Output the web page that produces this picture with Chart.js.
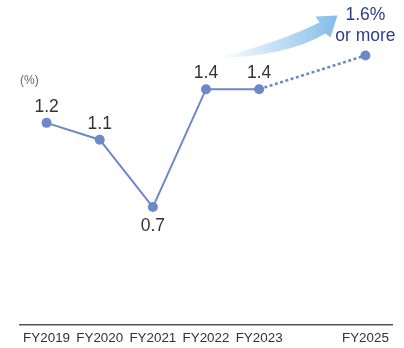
<!DOCTYPE html>
<html>
<head>
<meta charset="utf-8">
<script src="https://cdn.jsdelivr.net/npm/chart.js@4.4.1/dist/chart.umd.min.js"></script>
<style>
  html, body { margin: 0; padding: 0; background: #fff; }
  #wrap { position: relative; width: 404px; height: 348px; }
</style>
</head>
<body>
<div id="wrap"><canvas id="ratio-chart"></canvas></div>
<script>
// Fiscal years (FY2024 has no result, label left blank)
const years = ["FY2019", "FY2020", "FY2021", "FY2022", "FY2023", "", "FY2025"];
const ratio = [1.2, 1.1, 0.7, 1.4, 1.4, null, 1.6];
const valueLabels = ["1.2", "1.1", "0.7", "1.4", "1.4", "", "1.6%\nor more"];
const unitLabel = "(%)";

const lineColor = "#6c88c9";
const targetColor = "#2d3d8e";

// Value labels above each point (below for the dip)
const valueLabelPlugin = {
  id: "valueLabels",
  afterDatasetsDraw(chart) {
    const ctx = chart.ctx;
    const meta = chart.getDatasetMeta(0);
    ctx.save();
    ctx.textAlign = "center";
    ctx.textBaseline = "middle";
    ctx.font = "17.5px 'Liberation Sans', Arial, sans-serif";
    meta.data.forEach((pt, i) => {
      if (ratio[i] === null) return;
      const lines = valueLabels[i].split("\n");
      if (lines.length > 1) {
        ctx.fillStyle = targetColor;
        ctx.fillText(lines[0], pt.x, pt.y - 40);
        ctx.fillText(lines[1], pt.x, pt.y - 19);
      } else {
        ctx.fillStyle = "#333";
        const below = i > 0 && i < ratio.length - 1 && ratio[i] < ratio[i - 1] && ratio[i] < ratio[i + 1];
        ctx.fillText(lines[0], pt.x, below ? pt.y + 19 : pt.y - 16);
      }
    });
    // unit label
    ctx.font = "12px 'Liberation Sans', Arial, sans-serif";
    ctx.fillStyle = "#666";
    ctx.textAlign = "left";
    ctx.fillText(unitLabel, chart.chartArea.left, meta.data[0].y - 42);
    ctx.restore();
  }
};

// Curved gradient arrow pointing to the FY2025 target
const arrowPlugin = {
  id: "trendArrow",
  afterDatasetsDraw(chart) {
    const ctx = chart.ctx;
    const xs = chart.scales.x;
    const ys = chart.scales.y;
    const x0 = xs.getPixelForValue(3) + 11;
    const y0 = ys.getPixelForValue(1.4) - 31;
    const tx = xs.getPixelForValue(6) - 28;
    const ty = ys.getPixelForValue(1.6) - 40;
    const grad = ctx.createLinearGradient(x0, 0, tx, 0);
    grad.addColorStop(0, "rgba(142,195,234,0)");
    grad.addColorStop(1, "rgba(132,188,232,1)");
    ctx.save();
    ctx.fillStyle = grad;
    ctx.beginPath();
    ctx.moveTo(x0, y0);
    ctx.quadraticCurveTo(tx - 50, y0 - 2, tx - 12, ty + 18);
    ctx.lineTo(tx - 7, ty + 22);
    ctx.lineTo(tx, ty);
    ctx.lineTo(tx - 22, ty + 1);
    ctx.lineTo(tx - 18, ty + 7);
    ctx.quadraticCurveTo(tx - 58, y0 - 16, x0, y0);
    ctx.closePath();
    ctx.fill();
    ctx.restore();
  }
};

new Chart(document.getElementById("ratio-chart"), {
  type: "line",
  data: {
    labels: years,
    datasets: [{
      data: ratio,
      borderColor: lineColor,
      backgroundColor: lineColor,
      borderWidth: 2,
      pointRadius: 5,
      pointHoverRadius: 5,
      pointBackgroundColor: lineColor,
      pointBorderWidth: 0,
      spanGaps: true,
      tension: 0,
      segment: {
        borderDash: c => (c.p0DataIndex >= 4 ? [3, 2.5] : undefined),
        borderWidth: c => (c.p0DataIndex >= 4 ? 2.5 : 2)
      }
    }]
  },
  options: {
    responsive: true,
    maintainAspectRatio: false,
    animation: false,
    layout: { padding: { top: 0, left: 20, right: 12, bottom: -3 } },
    plugins: {
      legend: { display: false },
      tooltip: { enabled: false }
    },
    scales: {
      x: {
        offset: true,
        grid: { display: false, drawTicks: false },
        border: { display: true, color: "#555", width: 1.5 },
        ticks: {
          color: "#333",
          padding: 5,
          maxRotation: 0,
          autoSkip: false,
          font: { family: "'Liberation Sans', Arial, sans-serif", size: 13.4 }
        }
      },
      y: {
        display: false,
        min: 0,
        max: 1.9
      }
    }
  },
  plugins: [arrowPlugin, valueLabelPlugin]
});
</script>
</body>
</html>
